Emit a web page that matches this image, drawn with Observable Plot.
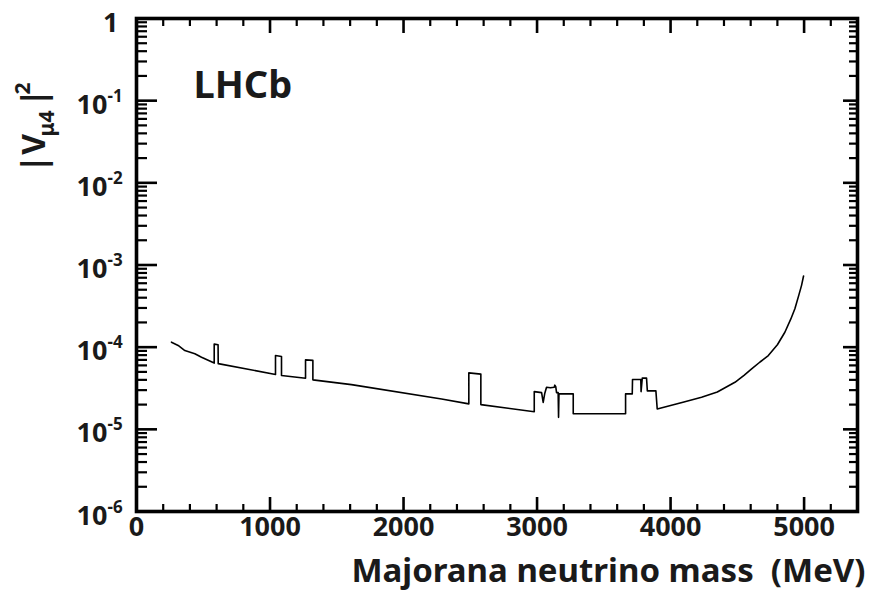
<!DOCTYPE html>
<html>
<head>
<meta charset="utf-8">
<script src="https://cdn.jsdelivr.net/npm/d3@7"></script>
<script src="https://cdn.jsdelivr.net/npm/@observablehq/plot@0.6"></script>
<style>
  html, body { margin: 0; padding: 0; background: #fff; }
</style>
</head>
<body>
<div id="chart"></div>
<script>
// Limit curve: Majorana neutrino mass (MeV) vs |V_mu4|^2
const mass = [262, 312, 362, 437, 487, 582, 582, 611, 612, 1041, 1041, 1086, 1086, 1266, 1266, 1321, 1321, 1610, 2285, 2489, 2489, 2579, 2579, 2979, 2979, 3034, 3046, 3058, 3071, 3100, 3128, 3133, 3140, 3146, 3158, 3161, 3164, 3271, 3271, 3663, 3663, 3713, 3715, 3777, 3779, 3788, 3820, 3826, 3890, 3900, 4000, 4100, 4232, 4350, 4482, 4550, 4607, 4670, 4732, 4800, 4856, 4900, 4931, 4960, 4981, 4996];
const coupling = [1.15e-4, 1.05e-4, 9.1e-5, 8.3e-5, 7.55e-5, 6.4e-5, 1.09e-4, 1.07e-4, 6.3e-5, 4.65e-5, 7.9e-5, 7.7e-5, 4.52e-5, 4.19e-5, 7.0e-5, 6.9e-5, 4.0e-5, 3.5e-5, 2.34e-5, 2.04e-5, 4.86e-5, 4.7e-5, 2.0e-5, 1.64e-5, 2.88e-5, 2.8e-5, 2.13e-5, 2.75e-5, 3.25e-5, 3.2e-5, 3.25e-5, 3.45e-5, 3.3e-5, 2.8e-5, 2.8e-5, 1.4e-5, 2.7e-5, 2.7e-5, 1.55e-5, 1.55e-5, 2.7e-5, 2.7e-5, 4.04e-5, 4.04e-5, 2.88e-5, 4.2e-5, 4.2e-5, 2.94e-5, 2.94e-5, 1.77e-5, 1.95e-5, 2.15e-5, 2.46e-5, 2.85e-5, 3.74e-5, 4.55e-5, 5.43e-5, 6.6e-5, 7.9e-5, 1.07e-4, 1.52e-4, 2.19e-4, 2.93e-4, 4.27e-4, 5.65e-4, 7.35e-4];

// Axis ticks and labels
const xMajor = [0, 1000, 2000, 3000, 4000, 5000];
const xMinor = [200, 400, 600, 800, 1200, 1400, 1600, 1800, 2200, 2400, 2600, 2800, 3200, 3400, 3600, 3800, 4200, 4400, 4600, 4800, 5200];
const xLabels = ["0", "1000", "2000", "3000", "4000", "5000"];
const yMajor = [1, 1e-1, 1e-2, 1e-3, 1e-4, 1e-5, 1e-6];
const yExpTicks = [1e-1, 1e-2, 1e-3, 1e-4, 1e-5, 1e-6];
const yExpLabels = ["-1", "-2", "-3", "-4", "-5", "-6"];
const yMinor = [];
for (let e = -6; e < 0; e++) for (let k = 2; k <= 9; k++) yMinor.push(k * Math.pow(10, e));

const xTitle = "Majorana neutrino mass\u00a0 (MeV)";
const tag = "LHCb";
// y title pieces: |V, subscript mu4, |, superscript 2
const yTitleParts = ["|V", "\u03bc4", "|", "2"];

const data = mass.map((m, i) => ({mass: m, v: coupling[i]}));

const W = 870, H = 596, mL = 136, mR = 13, mT = 18, mB = 85;
const pw = W - mL - mR, ph = H - mT - mB;
const ink = "#1a1a1a";

const svg = Plot.plot({
  width: W, height: H,
  marginLeft: mL, marginRight: mR, marginTop: mT, marginBottom: mB,
  x: {domain: [0, 5400], axis: null},
  y: {type: "log", domain: [1e-6, 1], axis: null},
  marks: [
    Plot.frame({stroke: "#000", fill: "none", strokeWidth: 3.6}),
    // inward ticks on all four sides
    Plot.ruleX(xMajor, {insetTop: ph - 14, stroke: "#000", strokeWidth: 2.6}),
    Plot.ruleX(xMinor, {insetTop: ph - 7, stroke: "#000", strokeWidth: 2.2}),
    Plot.ruleX(xMajor, {insetBottom: ph - 15, stroke: "#000", strokeWidth: 2.6}),
    Plot.ruleX(xMinor, {insetBottom: ph - 8, stroke: "#000", strokeWidth: 2.2}),
    Plot.ruleY(yMajor, {insetRight: pw - 21, stroke: "#000", strokeWidth: 2.6}),
    Plot.ruleY(yMinor, {insetRight: pw - 11, stroke: "#000", strokeWidth: 2.2}),
    Plot.ruleY(yMajor, {insetLeft: pw - 14, stroke: "#000", strokeWidth: 2.6}),
    Plot.ruleY(yMinor, {insetLeft: pw - 8, stroke: "#000", strokeWidth: 2.2}),
    // curve
    Plot.line(data, {x: "mass", y: "v", stroke: "#000", strokeWidth: 1.6}),
    // x tick labels
    Plot.text(xMajor, {x: d => d, frameAnchor: "bottom", lineAnchor: "top", dy: 5,
      text: (d, i) => xLabels[i], fontSize: 27, fontWeight: "bold", fill: ink}),
    // y tick labels (10 with raised exponent)
    Plot.text([1], {y: d => d, frameAnchor: "left", textAnchor: "end", lineAnchor: "bottom",
      dx: -18, dy: 13, text: () => "1", fontSize: 27, fontWeight: "bold", fill: ink}),
    Plot.text(yExpTicks, {y: d => d, frameAnchor: "left", textAnchor: "end", lineAnchor: "bottom",
      dx: -29, dy: 13, text: () => "10", fontSize: 27, fontWeight: "bold", fill: ink}),
    Plot.text(yExpTicks, {y: d => d, frameAnchor: "left", textAnchor: "start", lineAnchor: "bottom",
      dx: -29, dy: 1, text: (d, i) => yExpLabels[i], fontSize: 17, fontWeight: "bold", fill: ink}),
    // LHCb tag
    Plot.text([tag], {frameAnchor: "top-left", textAnchor: "start", lineAnchor: "bottom",
      dx: 57, dy: 79, text: d => d, fontSize: 38, fontWeight: "bold", fill: ink}),
    // x title
    Plot.text([xTitle], {frameAnchor: "bottom-right", textAnchor: "end", lineAnchor: "bottom",
      dx: 8, dy: 70, text: d => d, fontSize: 33, fontWeight: "bold", fill: ink}),
    // y title, rotated, built from pieces
    Plot.text([yTitleParts[0]], {frameAnchor: "top-left", rotate: -90, textAnchor: "start", lineAnchor: "bottom",
      dx: -92, dy: 154, text: d => d, fontSize: 32, fontWeight: "bold", fill: ink}),
    Plot.text([yTitleParts[1]], {frameAnchor: "top-left", rotate: -90, textAnchor: "start", lineAnchor: "bottom",
      dx: -83, dy: 118, text: d => d, fontSize: 21, fontWeight: "bold", fill: ink}),
    Plot.text([yTitleParts[2]], {frameAnchor: "top-left", rotate: -90, textAnchor: "start", lineAnchor: "bottom",
      dx: -92, dy: 88, text: d => d, fontSize: 32, fontWeight: "bold", fill: ink}),
    Plot.text([yTitleParts[3]], {frameAnchor: "top-left", rotate: -90, textAnchor: "start", lineAnchor: "bottom",
      dx: -107, dy: 76, text: d => d, fontSize: 21, fontWeight: "bold", fill: ink})
  ]
});

document.getElementById("chart").appendChild(svg);
</script>
</body>
</html>
